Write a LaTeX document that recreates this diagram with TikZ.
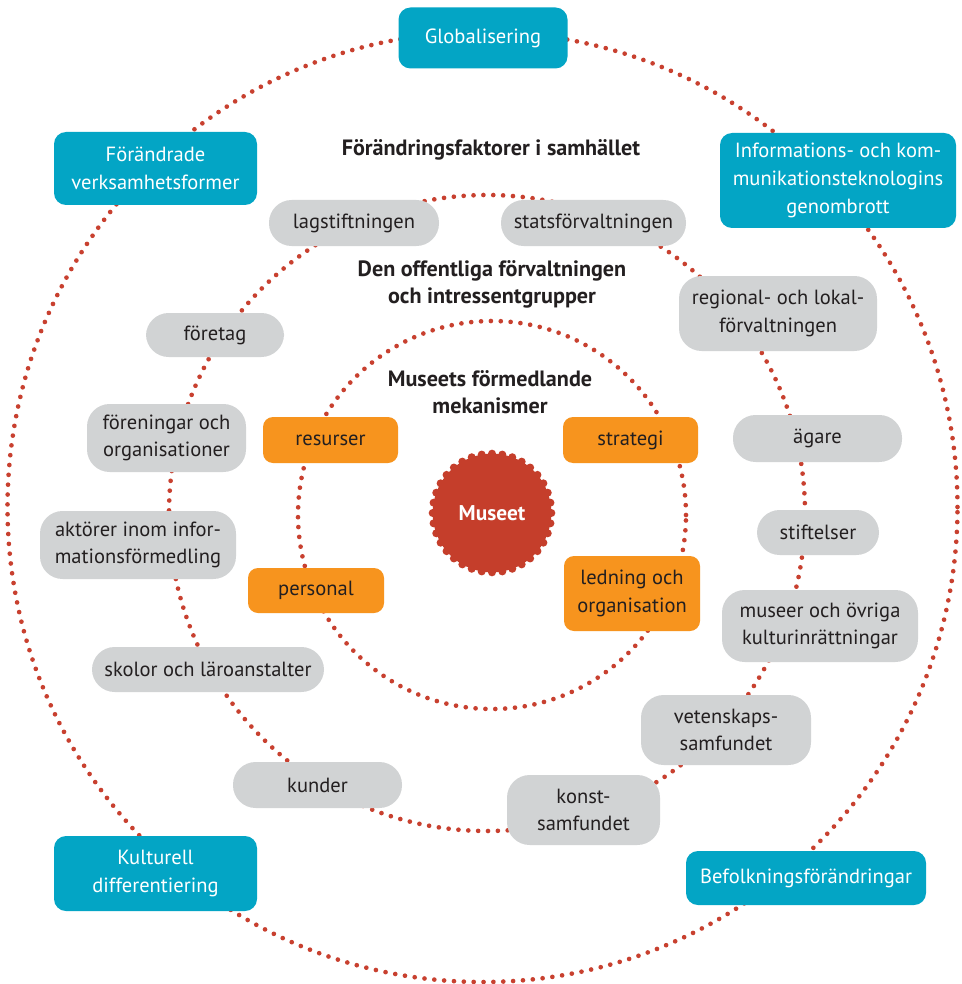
\documentclass[tikz,border=0pt]{standalone}
\usepackage{fontspec}
\usetikzlibrary{calc}
\setmainfont{PT Sans}
\definecolor{dotred}{HTML}{C8402F}
\definecolor{musred}{HTML}{C53E2B}
\definecolor{boxblue}{HTML}{03A5C5}
\definecolor{boxorange}{HTML}{F7941E}
\definecolor{boxgrey}{HTML}{D1D3D4}
\definecolor{ink}{HTML}{231F20}
\begin{document}
\begin{tikzpicture}[x=0.75pt,y=-0.75pt,
  dots/.style={dotred,line width=3.5pt,line cap=round,dash pattern=on 0pt off 7.4pt},
  lbl/.style={font=\fontsize{15.4}{20.8}\selectfont,align=center,inner sep=0pt},
  bluebox/.style={lbl,fill=boxblue,text=white,rounded corners=9pt},
  orangebox/.style={lbl,fill=boxorange,text=ink,rounded corners=7.5pt},
  greybox/.style={lbl,fill=boxgrey,text=ink,rounded corners=17pt},
  heading/.style={font=\bfseries\fontsize{16.6}{20.3}\selectfont,text=ink,align=center,inner sep=0pt}]
\useasboundingbox[fill=white] (0,0) rectangle (962,984);

% three dotted rings
\draw[dots] (482.5,507) circle[radius=356.25pt];
\draw[dots] (487,513) circle[radius=238.5pt];
\draw[dots] (492,515) circle[radius=145.5pt];

% scalloped centre disc
\fill[musred] (492,513) circle[radius=44.5pt];
\foreach \a in {0,10,...,350}
  \fill[musred] ($(492,513)+(\a:44.5pt)$) circle[radius=3pt];
\node[font=\bfseries\fontsize{16}{18}\selectfont,text=white] (museet) at (492,513) {Museet};

% headings
\node[heading] (h1) at (491,150) {Förändringsfaktorer i samhället};
\node[heading] (h2) at (492,284) {Den offentliga förvaltningen\\och intressentgrupper};
\node[heading] (h3) at (490,392) {Museets förmedlande\\mekanismer};

% outer ring: forces of change
\node[bluebox,minimum width=169*0.75pt,minimum height=61*0.75pt] (glob) at (483,38) {Globalisering};
\node[bluebox,minimum width=203*0.75pt,minimum height=73*0.75pt] (forand) at (155.5,168.5) {Förändrade\\verksamhetsformer};
\node[bluebox,minimum width=236*0.75pt,minimum height=95*0.75pt] (ikt) at (838,180.5) {Informations- och kom-\\munikationsteknologins\\genombrott};
\node[bluebox,minimum width=203*0.75pt,minimum height=75*0.75pt] (kult) at (155.5,873.5) {Kulturell\\differentiering};
\node[bluebox,minimum width=240*0.75pt,minimum height=54*0.75pt] (befolk) at (806,878) {Befolkningsförändringar};

% middle ring: public administration and stakeholders
\node[greybox,minimum width=170*0.75pt,minimum height=46*0.75pt] (lag) at (354,223) {lagstiftningen};
\node[greybox,minimum width=185*0.75pt,minimum height=46*0.75pt] (stats) at (593.5,223) {statsförvaltningen};
\node[greybox,minimum width=198*0.75pt,minimum height=75*0.75pt] (reg) at (778,313.5) {regional- och lokal-\\förvaltningen};
\node[greybox,minimum width=138*0.75pt,minimum height=44*0.75pt] (foretag) at (215,335) {företag};
\node[greybox,minimum width=159*0.75pt,minimum height=68*0.75pt] (forening) at (166.5,438) {föreningar och\\organisationer};
\node[greybox,minimum width=169*0.75pt,minimum height=47*0.75pt] (agare) at (817.5,438.5) {ägare};
\node[greybox,minimum width=196*0.75pt,minimum height=68*0.75pt] (aktor) at (138,545) {aktörer inom infor-\\mationsförmedling};
\node[greybox,minimum width=122*0.75pt,minimum height=45*0.75pt] (stift) at (818,532.5) {stiftelser};
\node[greybox,minimum width=196*0.75pt,minimum height=72*0.75pt] (museer) at (820,626) {museer och övriga\\kulturinrättningar};
\node[greybox,minimum width=232*0.75pt,minimum height=45*0.75pt] (skolor) at (208,669.5) {skolor och läroanstalter};
\node[greybox,minimum width=170*0.75pt,minimum height=70*0.75pt] (vet) at (726,730) {vetenskaps-\\samfundet};
\node[greybox,minimum width=169*0.75pt,minimum height=46*0.75pt] (kunder) at (317.5,785) {kunder};
\node[greybox,minimum width=153*0.75pt,minimum height=70*0.75pt] (konst) at (583.5,810) {konst-\\samfundet};

% inner ring: the museum's mediating mechanisms
\node[orangebox,minimum width=135*0.75pt,minimum height=46*0.75pt] (res) at (330.5,440) {resurser};
\node[orangebox,minimum width=135*0.75pt,minimum height=46*0.75pt] (strat) at (630.5,440) {strategi};
\node[orangebox,minimum width=136*0.75pt,minimum height=45*0.75pt] (pers) at (316,590.5) {personal};
\node[orangebox,minimum width=136*0.75pt,minimum height=75*0.75pt] (led) at (632,593.5) {ledning och\\organisation};
\end{tikzpicture}
\end{document}
